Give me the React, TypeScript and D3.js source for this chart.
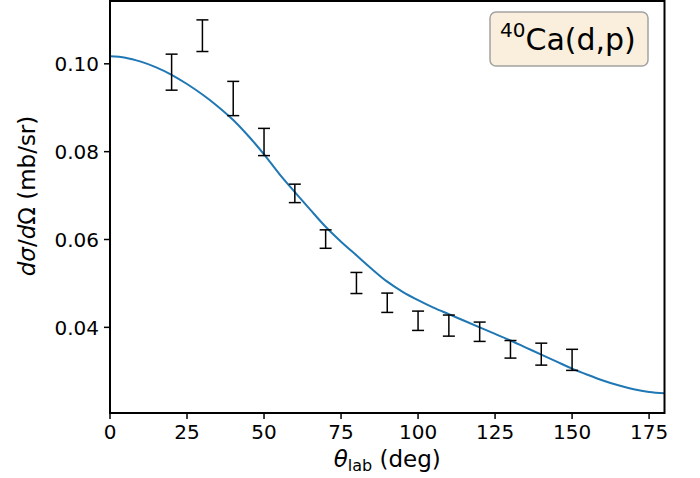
import React from "react";
import * as d3 from "d3";

// theoretical curve (deg, mb/sr)
const curveAngles = [0, 5, 10, 15, 20, 25, 30, 35, 40, 45, 50, 55, 60, 65, 70, 75, 80, 85, 90, 95, 100, 105, 110, 115, 120, 125, 130, 135, 140, 145, 150, 155, 160, 165, 170, 175, 180];
const curveValues = [0.1017, 0.1014, 0.1005, 0.0992, 0.0975, 0.0954, 0.093, 0.0903, 0.0872, 0.0835, 0.0794, 0.0749, 0.0708, 0.0668, 0.0629, 0.0595, 0.0564, 0.0533, 0.0504, 0.0481, 0.0462, 0.0445, 0.043, 0.0415, 0.04, 0.0385, 0.037, 0.0354, 0.0338, 0.0322, 0.0306, 0.0292, 0.0279, 0.0268, 0.0259, 0.0253, 0.025];

// measured points
const dataAngles = [20, 30, 40, 50, 60, 70, 80, 90, 100, 110, 120, 130, 140, 150];
const dataValues = [0.0981, 0.1064, 0.0921, 0.0822, 0.0705, 0.0601, 0.0501, 0.0456, 0.0415, 0.0404, 0.039, 0.035, 0.0339, 0.0326];
const dataErrors = [0.0041, 0.0036, 0.0039, 0.0031, 0.0021, 0.0021, 0.0024, 0.0022, 0.0022, 0.0024, 0.0022, 0.002, 0.0025, 0.0024];

const xTicks = [0, 25, 50, 75, 100, 125, 150, 175];
const yTicks = [0.04, 0.06, 0.08, 0.1];

const W = 700;
const H = 478;
const margin = { top: 1, right: 35.5, bottom: 65, left: 110 };
const font = "DejaVu Sans, sans-serif";

export default function App() {
  const x = d3.scaleLinear().domain([0, 180]).range([margin.left, W - margin.right]);
  const y = d3.scaleLinear().domain([0.0205, 0.1143]).range([H - margin.bottom, margin.top]);

  const line = d3
    .line<number>()
    .x((d, i) => x(curveAngles[i]))
    .y((d) => y(d))
    .curve(d3.curveMonotoneX);

  const x0 = margin.left;
  const x1 = W - margin.right;
  const y0 = H - margin.bottom;
  const y1 = margin.top;

  return (
    <svg width={W} height={H} style={{ position: "absolute", left: 0, top: 0, background: "#fff" }} fontFamily={font}>
      <path d={line(curveValues) || ""} fill="none" stroke="#1f77b4" strokeWidth={2} />

      {dataAngles.map((a, i) => {
        const cx = x(a);
        const top = y(dataValues[i] + dataErrors[i]);
        const bot = y(dataValues[i] - dataErrors[i]);
        return (
          <g key={a} stroke="#000" strokeWidth={1.5}>
            <line x1={cx} x2={cx} y1={top} y2={bot} />
            <line x1={cx - 6} x2={cx + 6} y1={top} y2={top} />
            <line x1={cx - 6} x2={cx + 6} y1={bot} y2={bot} />
          </g>
        );
      })}

      {/* axes frame */}
      <rect x={x0} y={y1} width={x1 - x0} height={y0 - y1} fill="none" stroke="#000" strokeWidth={2} />

      {xTicks.map((t) => (
        <g key={t}>
          <line x1={x(t)} x2={x(t)} y1={y0} y2={y0 + 6} stroke="#000" strokeWidth={1.5} />
          <text x={x(t)} y={y0 + 26} textAnchor="middle" fontSize={20}>
            {t}
          </text>
        </g>
      ))}

      {yTicks.map((t) => (
        <g key={t}>
          <line x1={x0 - 6} x2={x0} y1={y(t)} y2={y(t)} stroke="#000" strokeWidth={1.5} />
          <text x={x0 - 11} y={y(t)} dy="0.36em" textAnchor="end" fontSize={20}>
            {d3.format(".2f")(t)}
          </text>
        </g>
      ))}

      <text x={(x0 + x1) / 2} y={467} textAnchor="middle" fontSize={23}>
        <tspan fontStyle="italic">θ</tspan>
        <tspan fontSize={16} dy={4}>lab</tspan>
        <tspan dy={-4}> (deg)</tspan>
      </text>

      <text transform="translate(35,196) rotate(-90)" textAnchor="middle" fontSize={23}>
        <tspan fontStyle="italic">dσ</tspan>
        <tspan>/</tspan>
        <tspan fontStyle="italic">d</tspan>
        <tspan>Ω (mb/sr)</tspan>
      </text>

      <rect x={490} y={12} width={158} height={54} rx={6} fill="#faefdc" stroke="#a3a3a3" strokeWidth={1.5} />
      <text x={500} y={50} fontSize={30}>
        <tspan fontSize={20} dy={-13}>40</tspan>
        <tspan dy={13}>Ca(d,p)</tspan>
      </text>
    </svg>
  );
}
